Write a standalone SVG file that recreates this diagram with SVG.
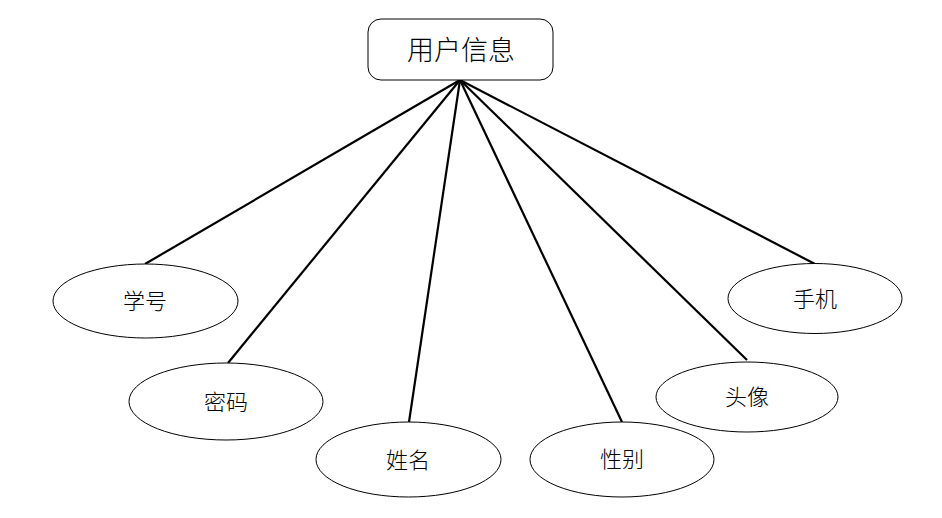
<svg xmlns="http://www.w3.org/2000/svg" width="942" height="518" viewBox="0 0 942 518">
<style>
.box{fill:#fff;stroke:#000;stroke-width:1}
.ell{fill:#fff;stroke:#000;stroke-width:1}
.conn{stroke:#000;stroke-width:2.2;fill:none}
.t{font-family:"Noto Sans CJK SC","Noto Sans",sans-serif;font-weight:300;fill:#000;text-anchor:middle;dominant-baseline:central}
.lb{font-size:22px}
.ti{font-size:27px}
</style>
<rect width="942" height="518" fill="#fff"/>
<g id="connectors">
<line class="conn" x1="460" y1="80" x2="145" y2="264"/>
<line class="conn" x1="460" y1="80" x2="228" y2="363"/>
<line class="conn" x1="460" y1="80" x2="409" y2="422"/>
<line class="conn" x1="460" y1="80" x2="622" y2="422"/>
<line class="conn" x1="460" y1="80" x2="747" y2="360"/>
<line class="conn" x1="460" y1="80" x2="815" y2="264"/>
</g>
<g id="user-info">
<rect class="box" x="368" y="19" width="185" height="61" rx="13"/>
<text class="t ti" x="461" y="48">用户信息</text>
</g>
<g id="xuehao">
<ellipse class="ell" cx="145.5" cy="301" rx="92.5" ry="37"/>
<text class="t lb" x="145" y="299">学号</text>
</g>
<g id="mima">
<ellipse class="ell" cx="226" cy="401.5" rx="97" ry="38.5"/>
<text class="t lb" x="226" y="400">密码</text>
</g>
<g id="xingming">
<ellipse class="ell" cx="408.5" cy="459.5" rx="92.5" ry="37.5"/>
<text class="t lb" x="408" y="458">姓名</text>
</g>
<g id="xingbie">
<ellipse class="ell" cx="622" cy="459.5" rx="92" ry="37.5"/>
<text class="t lb" x="622" y="457">性别</text>
</g>
<g id="touxiang">
<ellipse class="ell" cx="747" cy="397" rx="91" ry="35"/>
<text class="t lb" x="747" y="395">头像</text>
</g>
<g id="shouji">
<ellipse class="ell" cx="815" cy="298.5" rx="87" ry="35"/>
<text class="t lb" x="815" y="297">手机</text>
</g>
</svg>
